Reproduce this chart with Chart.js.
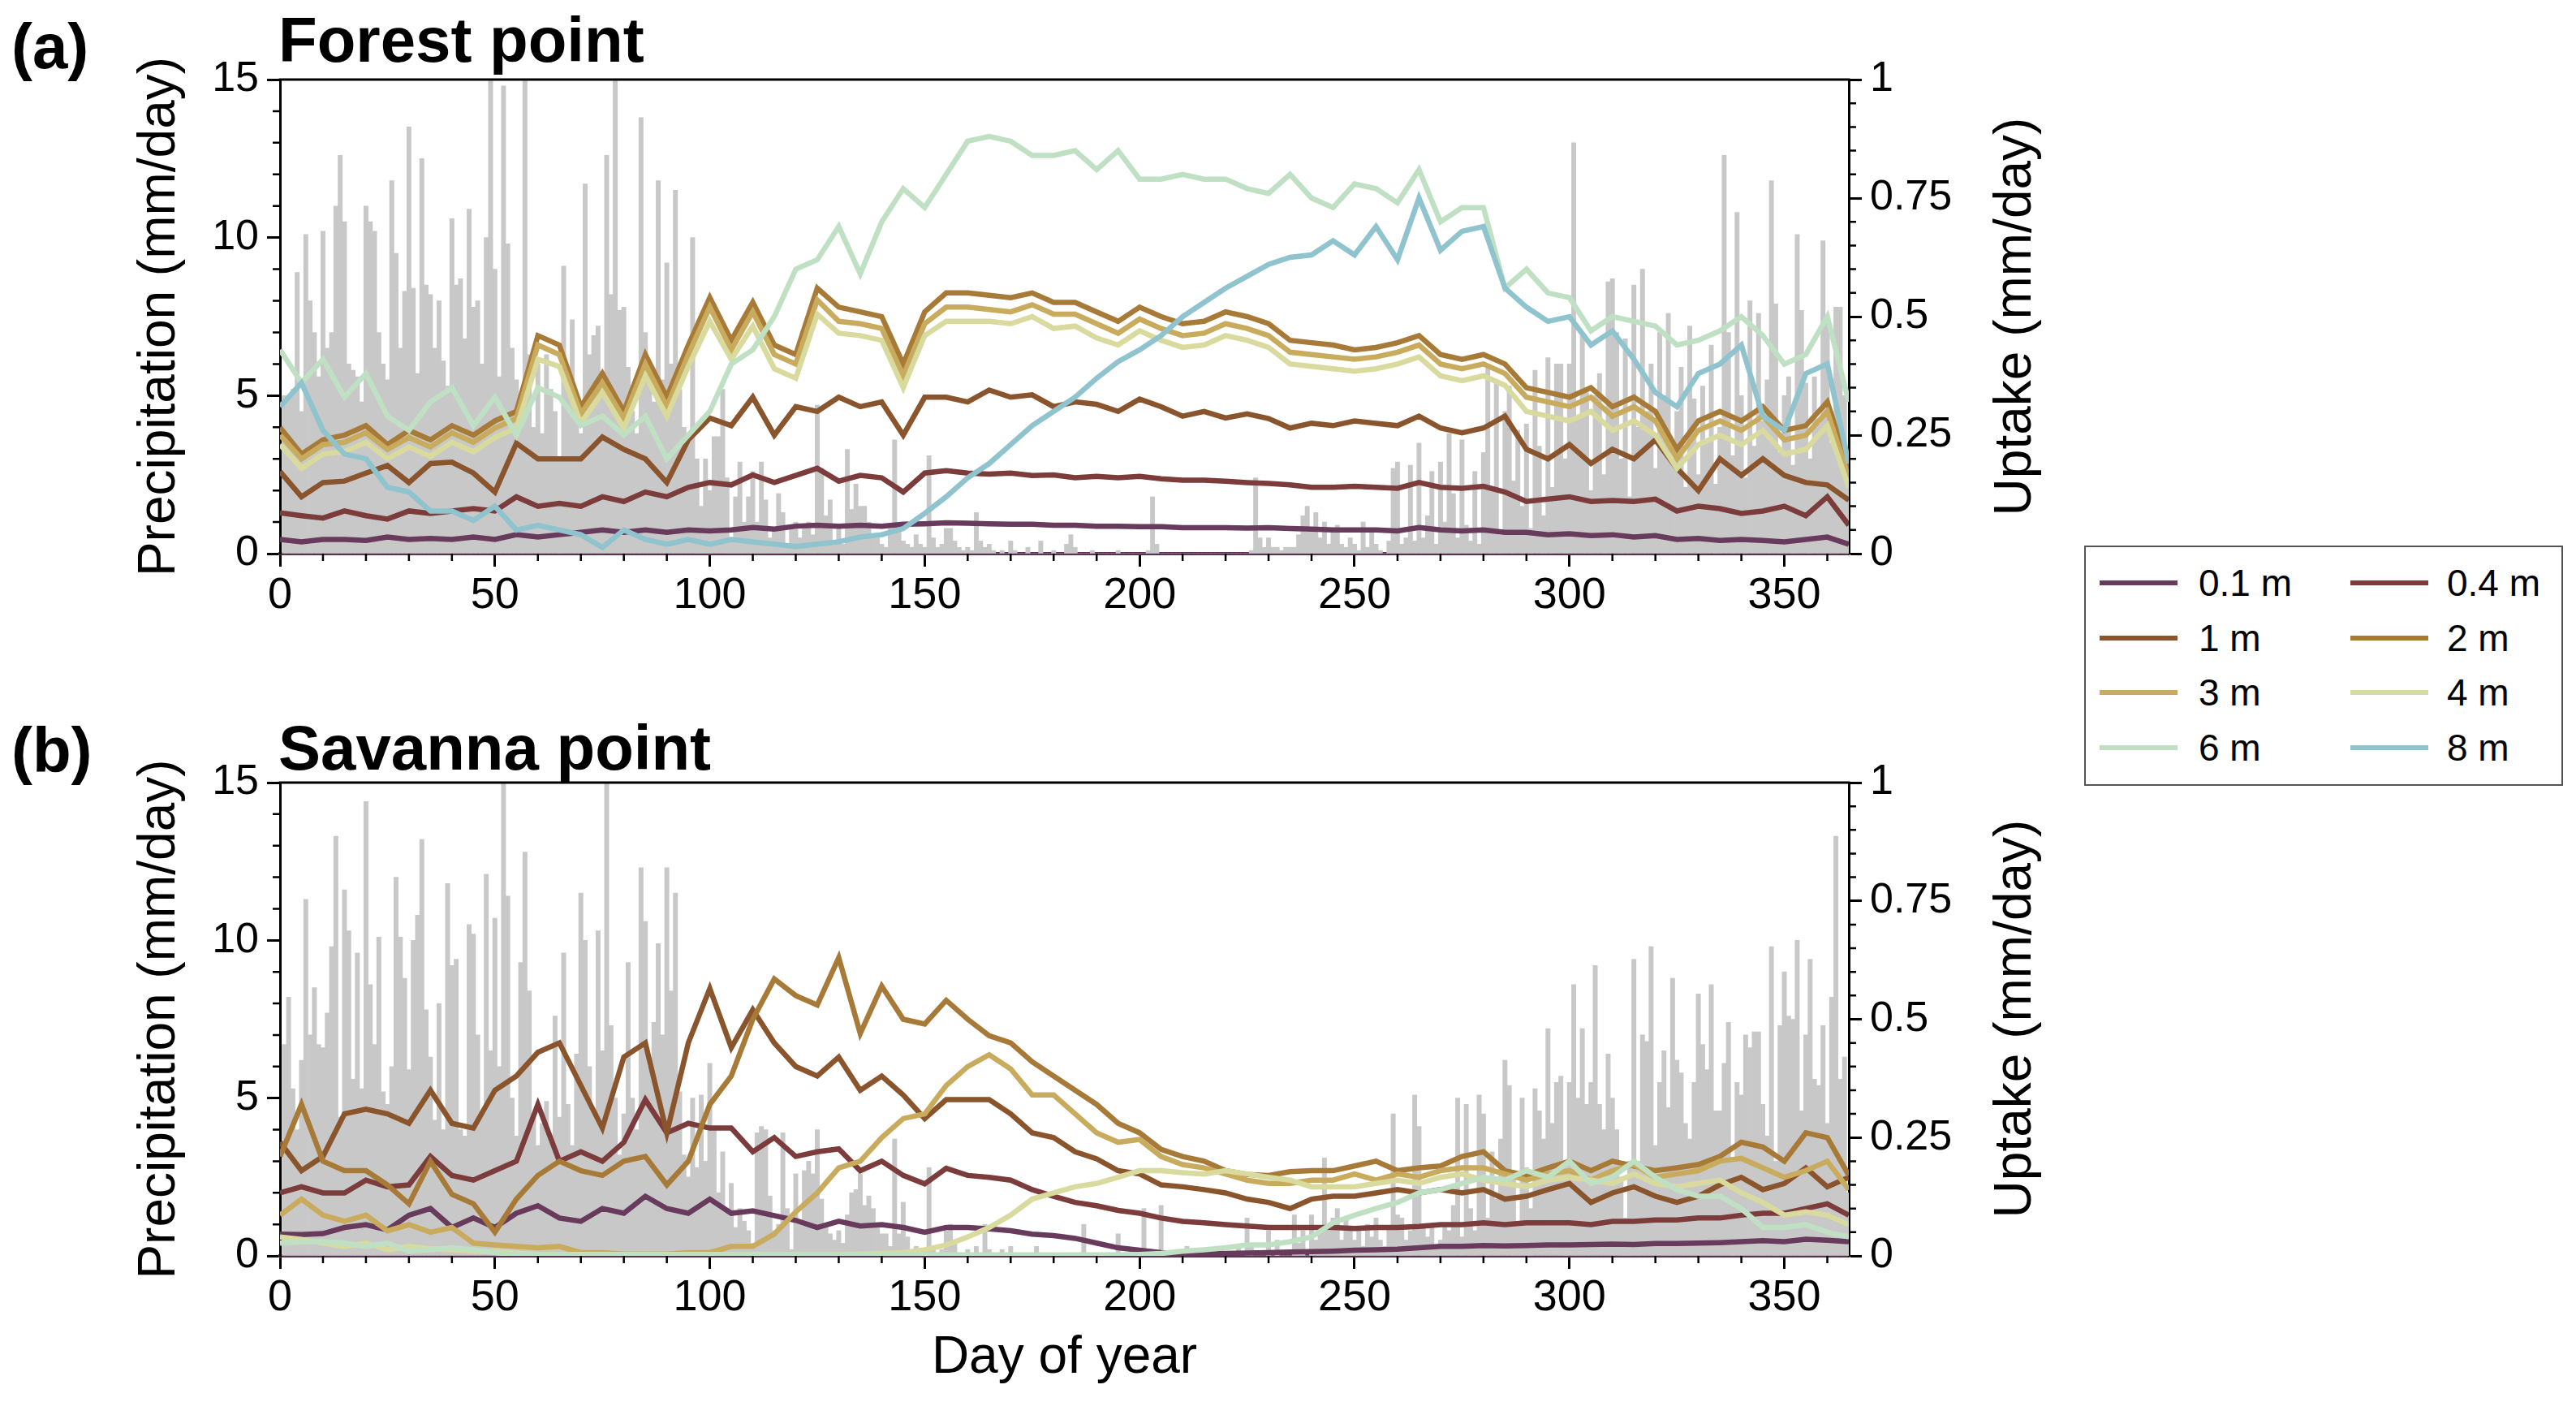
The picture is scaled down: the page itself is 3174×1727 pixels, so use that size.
<!DOCTYPE html>
<html>
<head>
<meta charset="utf-8">
<script src="https://cdn.jsdelivr.net/npm/chart.js@4.4.0/dist/chart.umd.min.js"></script>
<style>
  body { margin: 0; background: #fff; width: 3174px; height: 1727px; position: relative; overflow: hidden;
         font-family: "Liberation Sans", Arial, sans-serif; color: #000; }
  canvas { position: absolute; left: 0; }
  .lbl { position: absolute; font-weight: bold; font-size: 78px; line-height: 78px; white-space: nowrap; }
  .ytitle { position: absolute; font-size: 64px; line-height: 64px; white-space: nowrap;
            transform: translate(-50%, -50%) rotate(-90deg); }
  #legend { position: absolute; left: 2568px; top: 672px; width: 590px; height: 296px;
            border: 2px solid #555; box-sizing: border-box; }
  #legend .sw { position: absolute; width: 96px; height: 6px; }
  #legend .tx { position: absolute; font-size: 46px; line-height: 46px; white-space: nowrap; }
</style>
</head>
<body>
<div class="lbl" style="left:14px;top:18px">(a)</div>
<div class="lbl" style="left:343px;top:10px">Forest point</div>
<div class="lbl" style="left:14px;top:885px">(b)</div>
<div class="lbl" style="left:343px;top:882px">Savanna point</div>
<div class="ytitle" style="left:2480px;top:390px">Uptake (mm/day)</div>
<div class="ytitle" style="left:2480px;top:1255px">Uptake (mm/day)</div>
<div id="legend"></div>

<canvas id="forestChart" width="2560" height="780" style="top:0px"></canvas>
<canvas id="savannaChart" width="2560" height="861" style="top:866px"></canvas>

<script>
// depth labels and colours
const depthNames = ['0.1 m', '0.4 m', '1 m', '2 m', '3 m', '4 m', '6 m', '8 m'];
const depthColors = ['#683a5b', '#7b3c3b', '#8a552c', '#a77b37', '#c8ab5d', '#d9da9d', '#c0e0c3', '#8fc3cd'];

// daily precipitation (mm/day), day 1..365
const forestPrecip = [
  5.0, 4.9, 5.2, 8.9, 4.5, 10.1, 8.0, 7.0, 5.6, 10.2,
  6.5, 7.0, 11.0, 12.6, 10.5, 6.0, 5.8, 5.6, 4.8, 11.0,
  10.5, 10.2, 7.0, 6.0, 5.5, 11.8, 9.5, 6.5, 8.3, 13.5,
  8.4, 5.7, 12.5, 8.5, 8.2, 6.5, 8.0, 6.1, 5.3, 10.6,
  8.5, 8.7, 6.8, 10.9, 7.8, 8.0, 6.0, 10.0, 15.0, 9.0,
  5.6, 14.8, 9.8, 6.5, 5.5, 4.2, 15.0, 6.3, 4.0, 6.0,
  3.8, 6.3, 5.2, 4.5, 3.0, 9.1, 5.5, 7.4, 4.6, 3.8,
  11.7, 6.3, 6.9, 7.2, 5.0, 12.6, 8.2, 15.0, 7.7, 7.8,
  5.9, 4.5, 3.8, 13.8, 7.0, 6.0, 4.8, 11.8, 5.5, 9.2,
  6.0, 11.5, 5.2, 4.0, 3.5, 10.0, 3.0, 1.5, 3.0, 2.0,
  3.7, 3.7, 5.2, 2.4, 0.5, 1.8, 2.9, 1.0, 1.8, 2.6,
  1.0, 2.9, 1.7, 0.5, 0.7, 1.9, 1.3, 0.2, 0.8, 1.0,
  0.5, 0.8, 1.0, 0.6, 4.7, 2.7, 1.2, 1.7, 0.4, 0.9,
  0.3, 3.3, 1.4, 2.2, 1.5, 1.5, 1.0, 0.6, 0.5, 0.3,
  0.2, 0.8, 3.6, 0.8, 0.4, 0.3, 0.2, 0.6, 0.3, 0.2,
  3.1, 0.5, 0.2, 0.3, 0.8, 0.8, 0.4, 0.2, 0.1, 0.2,
  0.1, 1.3, 0.4, 0.2, 0.3, 0.1, 0, 0.1, 0, 0.4,
  0.1, 0, 0, 0.2, 0, 0, 0.4, 0, 0, 0.1,
  0, 0, 0.3, 0.6, 0.2, 0, 0, 0, 0.1, 0,
  0, 0, 0, 0, 0.1, 0, 0, 0, 0, 0,
  0, 0.1, 1.8, 0.3, 0, 0, 0, 0, 0, 0,
  0, 0, 0, 0, 0, 0, 0, 0, 0, 0,
  0, 0, 0, 0, 0, 0.1, 2.4, 0.5, 0.2, 0.5,
  0.2, 0.2, 0.1, 0.2, 0.2, 0.2, 0.6, 1.2, 1.5, 0.8,
  1.3, 0.5, 1.0, 0.3, 0.8, 0.9, 0.3, 0.2, 0.5, 0.3,
  0.1, 1.0, 0.2, 0.8, 0.3, 0.1, 0, 0.4, 2.7, 2.9,
  0.3, 0.5, 2.8, 0.4, 3.5, 0.5, 1.2, 2.6, 0.3, 2.9,
  1.0, 3.8, 1.9, 0.5, 3.6, 0.9, 0.4, 2.6, 0.3, 3.2,
  6.0, 2.0, 5.5, 0.6, 4.5, 5.3, 2.3, 3.9, 1.5, 4.1,
  0.8, 5.8, 3.4, 1.2, 6.2, 2.1, 6.0, 6.0, 3.0, 6.0,
  13.0, 4.3, 6.9, 5.1, 2.0, 5.0, 5.7, 2.5, 8.6, 8.7,
  7.0, 3.0, 6.8, 1.8, 8.5, 4.0, 9.0, 4.5, 6.0, 2.7,
  7.0, 5.0, 7.6, 3.0, 4.5, 5.9, 2.1, 7.2, 4.9, 2.5,
  5.3, 3.6, 6.6, 2.2, 4.0, 12.6, 7.0, 3.1, 10.8, 5.0,
  2.4, 8.0, 3.4, 7.6, 4.2, 5.5, 11.8, 7.9, 3.2, 5.0,
  5.6, 2.8, 10.1, 7.7, 5.4, 3.0, 5.6, 4.1, 9.9, 7.5,
  3.5, 7.8, 7.8, 5.0, 2.4
];
const savannaPrecip = [
  6.7, 8.2, 5.3, 4.0, 6.2, 11.3, 7.0, 8.5, 6.7, 6.6,
  7.7, 9.8, 13.3, 4.4, 11.6, 10.3, 5.6, 9.6, 5.3, 14.4,
  8.6, 6.7, 10.1, 5.2, 4.8, 6.0, 12.0, 10.1, 8.8, 5.9,
  10.0, 10.8, 13.2, 7.8, 6.3, 4.3, 8.0, 4.0, 11.8, 9.2,
  9.4, 4.0, 3.8, 10.5, 10.2, 7.0, 4.5, 12.1, 6.5, 10.7,
  6.0, 15.0, 11.4, 5.0, 3.8, 9.3, 12.8, 8.4, 4.5, 3.5,
  4.2, 4.9, 3.6, 7.6, 4.4, 9.6, 4.8, 3.5, 6.4, 11.5,
  10.0, 6.0, 4.5, 10.3, 6.5, 15.0, 7.3, 5.0, 3.2, 4.5,
  9.3, 5.0, 4.0, 12.3, 10.6, 6.0, 7.4, 9.9, 7.0, 12.3,
  8.4, 11.5, 5.2, 3.2, 2.5, 5.0, 2.8, 5.1, 3.0, 6.1,
  4.0, 2.0, 3.3, 1.5, 2.3, 0.9, 1.5, 1.1, 0.8, 0.4,
  3.9, 4.1, 4.0, 1.9, 0.8, 1.0, 3.9, 1.5, 0.2, 2.6,
  1.0, 2.7, 3.0, 2.6, 4.0, 1.8, 1.0, 0.7, 0.5, 0.8,
  0.4, 1.3, 2.0, 2.1, 2.6, 1.6, 1.9, 1.5, 1.0, 0.7,
  0.7, 0.3, 3.7, 0.7, 1.7, 0.6, 0.2, 0.3, 0.1, 0.2,
  2.8, 0.3, 0.1, 0.2, 0.8, 1.0, 0.4, 0.1, 0, 0.2,
  0, 0.3, 0, 1.0, 0.2, 0, 0, 0.2, 0, 0.3,
  0, 0, 0, 0, 0, 0.3, 0, 0, 0, 0,
  0, 0, 0, 0, 0, 0, 1.0, 0, 0, 0,
  0, 0, 0, 0, 0.7, 0, 0, 0, 0, 0,
  1.5, 0, 0, 0, 1.6, 0, 0, 0, 0, 0,
  0.3, 0, 0, 0, 0, 0, 0, 0, 0.2, 0,
  0, 0, 0.3, 0, 1.2, 0.3, 0, 0, 0, 0.8,
  0, 0.5, 0, 0, 0, 1.3, 0.4, 0.8, 0, 1.3,
  0.5, 0.9, 3.1, 0.8, 1.2, 1.5, 0.5, 1.2, 0.8, 0.5,
  0.8, 0.3, 1.0, 0.6, 1.2, 0.5, 0.3, 0.9, 4.5, 1.3,
  1.2, 0.5, 0.8, 5.1, 4.1, 1.0, 0.6, 1.0, 0.3, 0.5,
  1.0, 0.8, 1.6, 5.0, 0.6, 4.8, 1.5, 0.8, 5.1, 4.5,
  1.2, 3.3, 1.8, 3.7, 6.2, 5.4, 2.5, 1.0, 5.0, 2.8,
  1.5, 5.3, 4.6, 3.7, 7.2, 4.2, 5.5, 5.7, 3.0, 5.5,
  8.6, 5.0, 7.2, 4.8, 5.5, 9.2, 4.8, 4.0, 6.4, 5.0,
  4.0, 2.5, 1.2, 3.0, 9.4, 3.0, 7.0, 6.8, 9.8, 3.5,
  5.5, 6.5, 4.7, 8.8, 6.2, 5.8, 4.2, 3.7, 5.5, 8.3,
  6.7, 5.9, 8.6, 4.6, 4.6, 6.1, 7.4, 3.0, 5.5, 5.1,
  7.0, 6.6, 7.1, 7.1, 4.8, 3.8, 9.8, 3.0, 7.3, 9.0,
  7.6, 7.5, 10.0, 4.6, 7.0, 9.4, 5.6, 5.4, 7.3, 4.2,
  8.2, 13.3, 5.6, 6.3, 2.0
];
const precipDays = forestPrecip.map((_, i) => i + 1);

// uptake (mm/day) read every 5 days, day 0..365
const sampleDays = Array.from({ length: 74 }, (_, i) => i * 5);

const forest01 = [0.030,0.025,0.030,0.030,0.028,0.035,0.030,0.032,0.030,0.035,
  0.030,0.040,0.035,0.040,0.045,0.050,0.045,0.050,0.045,0.050,
  0.048,0.050,0.055,0.052,0.058,0.060,0.058,0.060,0.058,0.062,
  0.063,0.065,0.064,0.063,0.062,0.062,0.060,0.060,0.058,0.058,
  0.057,0.057,0.055,0.055,0.055,0.054,0.055,0.053,0.052,0.050,
  0.050,0.050,0.048,0.055,0.050,0.048,0.050,0.045,0.045,0.040,
  0.042,0.038,0.040,0.035,0.038,0.030,0.032,0.028,0.030,0.028,
  0.025,0.030,0.035,0.020];
const forest04 = [0.086,0.080,0.075,0.090,0.080,0.073,0.090,0.085,0.090,0.095,
  0.090,0.120,0.100,0.106,0.100,0.120,0.110,0.130,0.120,0.140,
  0.150,0.145,0.166,0.150,0.165,0.180,0.153,0.165,0.160,0.130,
  0.170,0.175,0.170,0.168,0.170,0.165,0.166,0.160,0.163,0.160,
  0.163,0.158,0.155,0.155,0.153,0.150,0.148,0.145,0.140,0.140,
  0.142,0.140,0.138,0.150,0.140,0.138,0.142,0.130,0.110,0.115,
  0.120,0.110,0.112,0.110,0.115,0.090,0.100,0.095,0.085,0.090,
  0.100,0.080,0.120,0.060];
const forest1 = [0.173,0.120,0.150,0.153,0.170,0.186,0.150,0.190,0.193,0.170,
  0.130,0.233,0.200,0.200,0.200,0.246,0.220,0.200,0.150,0.240,
  0.286,0.270,0.330,0.250,0.310,0.300,0.330,0.310,0.320,0.250,
  0.330,0.330,0.320,0.345,0.330,0.335,0.310,0.320,0.315,0.300,
  0.326,0.310,0.290,0.300,0.286,0.295,0.285,0.265,0.275,0.270,
  0.280,0.275,0.270,0.290,0.265,0.255,0.265,0.290,0.220,0.200,
  0.230,0.190,0.220,0.200,0.240,0.180,0.133,0.200,0.165,0.200,
  0.165,0.150,0.145,0.113];
const forest2 = [0.266,0.210,0.240,0.250,0.270,0.230,0.260,0.240,0.270,0.250,
  0.280,0.300,0.460,0.440,0.310,0.380,0.300,0.420,0.330,0.440,
  0.540,0.450,0.530,0.440,0.420,0.560,0.520,0.510,0.500,0.400,
  0.510,0.550,0.550,0.545,0.540,0.550,0.530,0.530,0.510,0.490,
  0.520,0.500,0.485,0.490,0.510,0.500,0.485,0.450,0.445,0.440,
  0.430,0.435,0.445,0.460,0.420,0.410,0.420,0.400,0.350,0.340,
  0.330,0.350,0.310,0.330,0.300,0.220,0.280,0.300,0.280,0.310,
  0.260,0.270,0.320,0.180];
const forest3 = [0.250,0.200,0.230,0.235,0.255,0.220,0.245,0.225,0.255,0.235,
  0.265,0.285,0.440,0.420,0.295,0.360,0.285,0.400,0.310,0.420,
  0.520,0.430,0.510,0.420,0.400,0.535,0.490,0.485,0.475,0.375,
  0.485,0.520,0.520,0.515,0.510,0.525,0.505,0.505,0.485,0.465,
  0.495,0.475,0.460,0.465,0.485,0.475,0.460,0.425,0.420,0.415,
  0.410,0.415,0.425,0.440,0.400,0.390,0.400,0.380,0.330,0.320,
  0.310,0.330,0.290,0.310,0.280,0.200,0.260,0.280,0.260,0.290,
  0.240,0.250,0.300,0.160];
const forest4 = [0.230,0.180,0.210,0.215,0.235,0.200,0.225,0.205,0.235,0.215,
  0.245,0.265,0.410,0.395,0.275,0.340,0.265,0.375,0.290,0.395,
  0.490,0.410,0.480,0.390,0.370,0.505,0.465,0.460,0.450,0.350,
  0.460,0.490,0.490,0.490,0.485,0.500,0.475,0.480,0.455,0.440,
  0.470,0.450,0.435,0.440,0.460,0.450,0.435,0.400,0.395,0.390,
  0.385,0.390,0.400,0.415,0.375,0.365,0.375,0.355,0.300,0.290,
  0.280,0.300,0.260,0.280,0.250,0.180,0.230,0.250,0.230,0.260,
  0.210,0.220,0.270,0.140];
const forest6 = [0.430,0.360,0.410,0.330,0.380,0.290,0.260,0.320,0.350,0.270,
  0.330,0.250,0.350,0.330,0.270,0.290,0.250,0.290,0.200,0.250,
  0.300,0.400,0.430,0.500,0.600,0.620,0.690,0.590,0.700,0.770,
  0.730,0.800,0.870,0.880,0.870,0.840,0.840,0.850,0.810,0.850,
  0.790,0.790,0.800,0.790,0.790,0.770,0.760,0.800,0.750,0.730,
  0.780,0.770,0.740,0.810,0.700,0.730,0.730,0.560,0.600,0.550,
  0.540,0.470,0.500,0.490,0.480,0.440,0.450,0.470,0.500,0.460,
  0.400,0.420,0.500,0.320];
const forest8 = [0.310,0.360,0.260,0.210,0.200,0.140,0.130,0.090,0.090,0.070,
  0.100,0.050,0.060,0.050,0.040,0.013,0.050,0.030,0.020,0.030,
  0.020,0.030,0.025,0.020,0.015,0.020,0.025,0.035,0.040,0.053,
  0.085,0.120,0.160,0.190,0.230,0.270,0.300,0.330,0.370,0.405,
  0.430,0.460,0.500,0.530,0.560,0.585,0.610,0.625,0.630,0.660,
  0.630,0.690,0.620,0.750,0.640,0.680,0.690,0.560,0.520,0.490,
  0.500,0.440,0.470,0.410,0.340,0.310,0.380,0.400,0.440,0.290,
  0.260,0.380,0.400,0.190];

const savanna01 = [0.046,0.045,0.047,0.060,0.066,0.055,0.086,0.100,0.060,0.080,
  0.060,0.090,0.106,0.080,0.073,0.100,0.090,0.126,0.100,0.090,
  0.120,0.090,0.095,0.085,0.075,0.060,0.073,0.063,0.066,0.060,
  0.050,0.060,0.060,0.057,0.053,0.046,0.043,0.037,0.027,0.017,
  0.012,0.007,0.004,0.004,0.005,0.006,0.007,0.008,0.009,0.010,
  0.012,0.013,0.014,0.017,0.020,0.020,0.022,0.021,0.022,0.023,
  0.023,0.024,0.025,0.024,0.026,0.026,0.027,0.028,0.030,0.032,
  0.030,0.035,0.033,0.030];
const savanna04 = [0.133,0.146,0.133,0.133,0.160,0.146,0.150,0.210,0.170,0.160,
  0.180,0.200,0.320,0.200,0.220,0.200,0.240,0.330,0.260,0.280,
  0.270,0.270,0.220,0.250,0.210,0.220,0.226,0.180,0.200,0.170,
  0.152,0.185,0.170,0.166,0.160,0.140,0.126,0.113,0.106,0.096,
  0.090,0.080,0.073,0.070,0.066,0.063,0.060,0.060,0.060,0.060,
  0.058,0.060,0.060,0.062,0.066,0.066,0.070,0.066,0.070,0.070,
  0.070,0.066,0.073,0.073,0.076,0.076,0.080,0.080,0.086,0.090,
  0.090,0.100,0.110,0.086];
const savanna1 = [0.240,0.180,0.210,0.300,0.310,0.300,0.280,0.350,0.280,0.270,
  0.350,0.380,0.430,0.450,0.360,0.270,0.420,0.450,0.260,0.450,
  0.565,0.440,0.520,0.450,0.400,0.380,0.420,0.350,0.380,0.340,
  0.290,0.330,0.330,0.330,0.300,0.260,0.250,0.220,0.205,0.180,
  0.173,0.150,0.146,0.140,0.133,0.120,0.113,0.100,0.120,0.126,
  0.126,0.133,0.140,0.133,0.140,0.133,0.140,0.120,0.126,0.140,
  0.153,0.113,0.133,0.146,0.126,0.113,0.126,0.150,0.166,0.140,
  0.153,0.186,0.146,0.166];
const savanna2 = [0.210,0.320,0.200,0.180,0.180,0.150,0.110,0.200,0.130,0.110,
  0.050,0.120,0.170,0.200,0.180,0.170,0.200,0.210,0.150,0.200,
  0.320,0.380,0.500,0.585,0.550,0.530,0.630,0.470,0.570,0.500,
  0.490,0.540,0.500,0.465,0.450,0.410,0.380,0.350,0.320,0.280,
  0.260,0.225,0.210,0.200,0.180,0.172,0.170,0.178,0.180,0.180,
  0.190,0.200,0.180,0.186,0.190,0.210,0.220,0.180,0.170,0.186,
  0.200,0.180,0.200,0.190,0.180,0.186,0.193,0.210,0.240,0.230,
  0.200,0.260,0.250,0.170];
const savanna3 = [0.086,0.120,0.086,0.073,0.086,0.053,0.066,0.050,0.060,0.027,
  0.023,0.020,0.017,0.020,0.007,0.007,0.004,0.004,0.004,0.007,
  0.007,0.020,0.020,0.046,0.093,0.133,0.186,0.200,0.250,0.290,
  0.300,0.360,0.400,0.425,0.395,0.340,0.340,0.300,0.260,0.240,
  0.246,0.210,0.193,0.186,0.173,0.160,0.153,0.153,0.160,0.160,
  0.173,0.160,0.173,0.166,0.180,0.186,0.186,0.173,0.160,0.173,
  0.180,0.160,0.180,0.193,0.166,0.173,0.180,0.200,0.206,0.186,
  0.166,0.180,0.200,0.140];
const savanna4 = [0.040,0.035,0.027,0.020,0.027,0.013,0.020,0.015,0.013,0.010,
  0.010,0.006,0.003,0.003,0.003,0.003,0.003,0.003,0.003,0.003,
  0.003,0.003,0.003,0.003,0.003,0.003,0.003,0.004,0.005,0.007,
  0.013,0.023,0.040,0.060,0.086,0.120,0.133,0.146,0.153,0.166,
  0.180,0.180,0.176,0.173,0.180,0.173,0.166,0.160,0.146,0.146,
  0.146,0.153,0.160,0.153,0.166,0.173,0.160,0.153,0.146,0.160,
  0.166,0.160,0.153,0.173,0.153,0.146,0.153,0.160,0.133,0.113,
  0.086,0.093,0.086,0.066];
const savanna6 = [0.027,0.030,0.030,0.027,0.020,0.027,0.010,0.013,0.017,0.013,
  0.007,0.003,0.002,0.002,0.002,0.002,0.002,0.002,0.002,0.002,
  0.002,0.002,0.002,0.002,0.002,0.002,0.002,0.002,0.002,0.002,
  0.002,0.002,0.002,0.002,0.002,0.002,0.002,0.002,0.002,0.002,
  0.003,0.005,0.010,0.013,0.017,0.023,0.023,0.030,0.040,0.070,
  0.086,0.100,0.113,0.133,0.140,0.153,0.166,0.160,0.180,0.166,
  0.200,0.153,0.166,0.200,0.166,0.140,0.126,0.126,0.100,0.060,
  0.060,0.066,0.050,0.040];

const forestUptake = [forest01, forest04, forest1, forest2, forest3, forest4, forest6, forest8];
const savannaUptake = [savanna01, savanna04, savanna1, savanna2, savanna3, savanna4, savanna6];

const FONT = '"Liberation Sans", Arial, sans-serif';

// minor ticks and top frame line
const frameTicks = {
  id: 'frameTicks',
  afterDraw(chart) {
    const { ctx, chartArea: a, scales } = chart;
    ctx.save();
    ctx.strokeStyle = '#000';
    ctx.lineWidth = 3;
    ctx.beginPath();
    ctx.moveTo(a.left - 1.5, a.top);
    ctx.lineTo(a.right + 1.5, a.top);
    ctx.stroke();
    ctx.lineWidth = 2.5;
    ctx.beginPath();
    for (let v = 10; v < 365; v += 10) {
      if (v % 50 === 0) continue;
      const x = scales.x.getPixelForValue(v);
      ctx.moveTo(x, a.bottom);
      ctx.lineTo(x, a.bottom + 9);
    }
    for (let v = 1; v < 15; v++) {
      if (v % 5 === 0) continue;
      const y = scales.yP.getPixelForValue(v);
      ctx.moveTo(a.left, y);
      ctx.lineTo(a.left - 9, y);
    }
    for (let k = 1; k < 20; k++) {
      if (k % 5 === 0) continue;
      const y = scales.yU.getPixelForValue(k / 20);
      ctx.moveTo(a.right, y);
      ctx.lineTo(a.right + 9, y);
    }
    ctx.stroke();
    ctx.restore();
  }
};

function makeChart(canvasId, precip, uptake, xAxisHeight, showXTitle) {
  const datasets = [{
    type: 'bar',
    data: precip.map((v, i) => ({ x: precipDays[i], y: v })),
    yAxisID: 'yP',
    backgroundColor: '#c8c8c8',
    borderWidth: 0,
    barPercentage: 1,
    categoryPercentage: 1,
    order: 100
  }];
  uptake.forEach((series, i) => {
    datasets.push({
      type: 'line',
      label: depthNames[i],
      data: series.map((v, j) => ({ x: sampleDays[j], y: v })),
      yAxisID: 'yU',
      borderColor: depthColors[i],
      borderWidth: 6.5,
      pointRadius: 0,
      tension: 0,
      fill: false,
      order: 20 - i
    });
  });

  const tickGrid = { drawOnChartArea: false, drawTicks: true, tickLength: 16, tickWidth: 3,
                     tickColor: '#000', color: '#000', offset: false };

  return new Chart(document.getElementById(canvasId), {
    type: 'line',
    data: { datasets },
    options: {
      responsive: false,
      animation: false,
      devicePixelRatio: 1,
      layout: { padding: { top: 98, left: 159, right: 0, bottom: 0 } },
      plugins: { legend: { display: false }, tooltip: { enabled: false } },
      scales: {
        x: {
          type: 'linear', position: 'bottom', min: 0, max: 365, offset: false,
          ticks: { stepSize: 50, includeBounds: false, color: '#000', padding: 4, maxRotation: 0,
                   font: { family: FONT, size: 54 } },
          grid: tickGrid,
          border: { color: '#5a3350', width: 4 },
          title: { display: showXTitle, text: 'Day of year', color: '#000',
                   font: { family: FONT, size: 64 }, padding: { top: 0, bottom: 15 } },
          afterFit: s => { s.height = xAxisHeight; }
        },
        yP: {
          position: 'left', min: 0, max: 15,
          ticks: { stepSize: 5, includeBounds: false, color: '#000', padding: 10,
                   font: { family: FONT, size: 52 } },
          grid: tickGrid,
          border: { color: '#000', width: 3 },
          title: { display: true, text: 'Precipitation (mm/day)', color: '#000',
                   font: { family: FONT, size: 64 }, padding: { top: 0, bottom: 0 } },
          afterFit: s => { s.width = 186; }
        },
        yU: {
          position: 'right', min: 0, max: 1,
          ticks: { stepSize: 0.25, includeBounds: false, color: '#000', padding: 10,
                   font: { family: FONT, size: 52 }, callback: v => String(v) },
          grid: tickGrid,
          border: { color: '#000', width: 3 },
          afterFit: s => { s.width = 282; }
        }
      }
    },
    plugins: [frameTicks]
  });
}

makeChart('forestChart', forestPrecip, forestUptake, 98, false);
makeChart('savannaChart', savannaPrecip, savannaUptake, 180, true);

// shared legend box
const legend = document.getElementById('legend');
depthNames.forEach((name, i) => {
  const col = i % 2, row = Math.floor(i / 2);
  const sw = document.createElement('div');
  sw.className = 'sw';
  sw.style.left = (17 + col * 309) + 'px';
  sw.style.top = (41 + row * 67.7) + 'px';
  sw.style.background = depthColors[i];
  legend.appendChild(sw);
  const tx = document.createElement('div');
  tx.className = 'tx';
  tx.textContent = name;
  tx.style.left = (139 + col * 306) + 'px';
  tx.style.top = (21 + row * 67.7) + 'px';
  legend.appendChild(tx);
});
</script>
</body>
</html>
